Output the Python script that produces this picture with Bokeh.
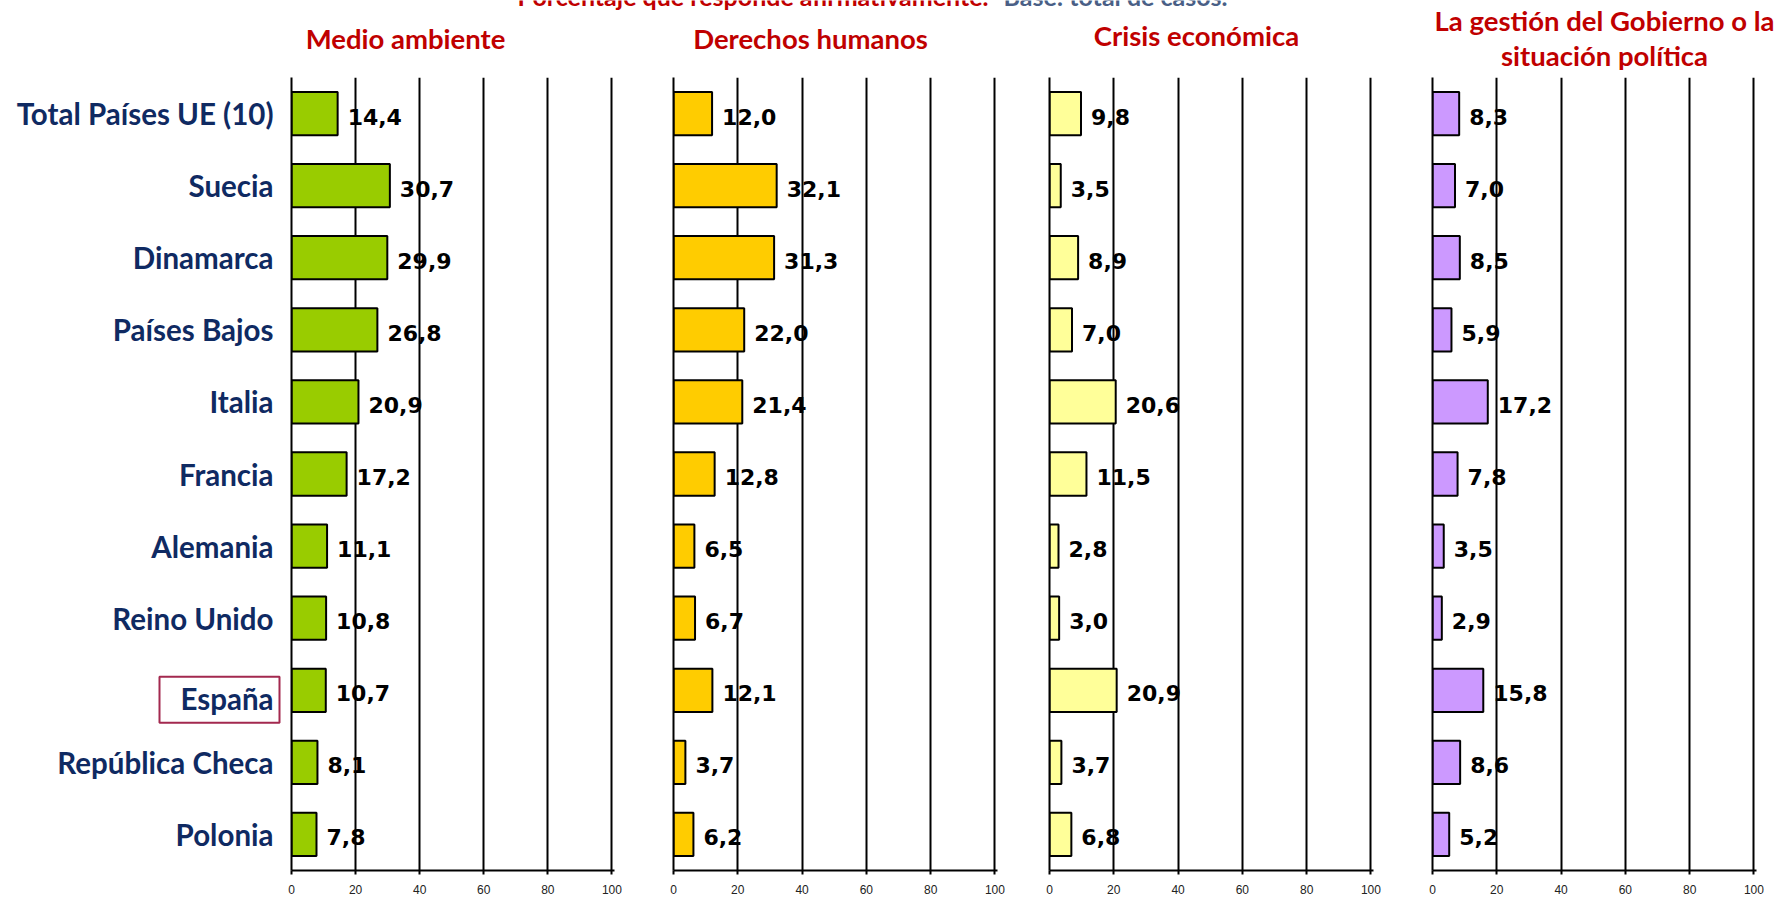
from bokeh.plotting import figure
from bokeh.layouts import column, row
from bokeh.models import Range1d, FactorRange, FixedTicker, ColumnDataSource
from bokeh.embed import file_html
from bokeh.resources import INLINE
from bokeh.core.properties import value

# ---------------- data ----------------
countries = ["Total Países UE (10)", "Suecia", "Dinamarca", "Países Bajos", "Italia",
             "Francia", "Alemania", "Reino Unido", "España", "República Checa", "Polonia"]
medio_ambiente = [14.4, 30.7, 29.9, 26.8, 20.9, 17.2, 11.1, 10.8, 10.7, 8.1, 7.8]
derechos_humanos = [12.0, 32.1, 31.3, 22.0, 21.4, 12.8, 6.5, 6.7, 12.1, 3.7, 6.2]
crisis_economica = [9.8, 3.5, 8.9, 7.0, 20.6, 11.5, 2.8, 3.0, 20.9, 3.7, 6.8]
gestion_gobierno = [8.3, 7.0, 8.5, 5.9, 17.2, 7.8, 3.5, 2.9, 15.8, 8.6, 5.2]
x_ticks = [0, 20, 40, 60, 80, 100]
highlight = "España"

title_lines = ["Medio ambiente", "Derechos humanos", "Crisis económica",
               "La gestión del Gobierno o la", "situación política"]
header_red = "Porcentaje que responde afirmativamente."
header_blue = "Base: total de casos."

# ---------------- style / layout ----------------
series = [medio_ambiente, derechos_humanos, crisis_economica, gestion_gobierno]
colors = ["#99CC00", "#FFCC00", "#FFFF99", "#CC99FF"]
LAB_W = 283
fig_w = [359, 378, 380, 378]
b_left = [8, 31, 29, 32]
b_right = [28, 23, 27, 22]
TOTAL_W = LAB_W + sum(fig_w)
HEAD_H = 77
FIG_H = 821
B_BOTTOM = 28
NAVY = "#0F2A62"
RED = "#C00000"
BOX = "#A3294F"

# ---------- header (titles), page pixel coordinates ----------
head = figure(width=TOTAL_W, height=HEAD_H, x_range=Range1d(0, TOTAL_W),
              y_range=Range1d(HEAD_H, 0), output_backend="svg", toolbar_location=None,
              x_axis_location=None, y_axis_location=None, min_border=0)
head.title.visible = False
head.grid.visible = False
head.outline_line_color = None
tsrc = ColumnDataSource(dict(x=[405, 810, 1196, 1604, 1604], y=[38, 38, 35, 20, 55], t=title_lines))
head.text(x="x", y="y", text="t", source=tsrc, text_align="center", text_baseline="alphabetic",
          text_font=value("Lato"), text_font_style="bold", text_font_size="27.5px", text_color=RED)
head.text(x=[517], y=[-5], text=[header_red], text_align="left", text_baseline="alphabetic",
          text_font=value("Lato"), text_font_style="bold", text_font_size="25px", text_color=RED)
head.text(x=[1003], y=[-5], text=[header_blue], text_align="left", text_baseline="alphabetic",
          text_font=value("Lato"), text_font_style="bold", text_font_size="25px", text_color="#4A5F86")

factors = list(reversed(countries))
yr = FactorRange(factors=factors)

# ---------- category labels ----------
labfig = figure(width=LAB_W, height=FIG_H, x_range=Range1d(0, LAB_W), y_range=yr,
                output_backend="svg", toolbar_location=None,
                x_axis_location=None, y_axis_location=None,
                min_border_left=0, min_border_right=0, min_border_top=0,
                min_border_bottom=B_BOTTOM)
labfig.title.visible = False
labfig.grid.visible = False
labfig.outline_line_color = None
lsrc = ColumnDataSource(dict(c=countries, dy=[8 if c == highlight else 0 for c in countries]))
labfig.text(x=273, y="c", text="c", source=lsrc, y_offset="dy", text_align="right",
            text_baseline="middle", text_font=value("Lato"), text_font_style="bold",
            text_font_size="29.5px", text_color=NAVY)
row_px = (FIG_H - B_BOTTOM) / len(countries)
labfig.rect(x=219, y=factors.index(highlight) + 0.5 - 9.5 / row_px, width=120, height=46,
            width_units="screen", height_units="screen", fill_color=None,
            line_color=BOX, line_width=2)


def fmt(v):
    return f"{v:.1f}".replace(".", ",")


figs = [labfig]
for i, (vals, col) in enumerate(zip(series, colors)):
    p = figure(width=fig_w[i], height=FIG_H, y_range=yr,
               x_range=Range1d(0, 100.8), output_backend="svg", toolbar_location=None,
               min_border_left=b_left[i], min_border_right=b_right[i],
               min_border_top=0, min_border_bottom=B_BOTTOM)
    p.title.visible = False
    src = ColumnDataSource(dict(c=countries, v=vals, lab=[fmt(v) for v in vals]))
    p.hbar(y="c", left=0, right="v", height=0.6, source=src, fill_color=col,
           line_color="black", line_width=2)
    p.text(x="v", y="c", text="lab", source=src, x_offset=10, y_offset=3,
           text_align="left", text_baseline="middle", text_font=value("DejaVu Sans"),
           text_font_style="bold", text_font_size="22px", text_color="black")

    p.outline_line_color = None
    p.background_fill_color = "white"
    p.ygrid.grid_line_color = None
    p.xgrid.ticker = FixedTicker(ticks=x_ticks)
    p.xgrid.grid_line_color = "black"
    p.xgrid.grid_line_width = 2
    p.xgrid.level = "underlay"

    xa = p.xaxis[0]
    xa.ticker = FixedTicker(ticks=x_ticks)
    xa.axis_line_width = 2
    xa.axis_line_color = "black"
    xa.major_tick_in = 0
    xa.major_tick_out = 4
    xa.major_tick_line_width = 2
    xa.minor_tick_line_color = None
    xa.major_label_standoff = 10
    xa.major_label_text_font = "Liberation Sans"
    xa.major_label_text_font_size = "12px"
    xa.major_label_text_color = "#222222"

    ya = p.yaxis[0]
    ya.axis_line_width = 2
    ya.axis_line_color = "black"
    ya.major_tick_in = 0
    ya.major_tick_out = 0
    ya.minor_tick_line_color = None
    ya.major_label_standoff = 0
    ya.major_label_text_font_size = "0px"
    ya.major_label_text_color = None
    figs.append(p)

layout = column(head, row(*figs, spacing=0), spacing=0)
open("out.html", "w").write(file_html(layout, INLINE))
